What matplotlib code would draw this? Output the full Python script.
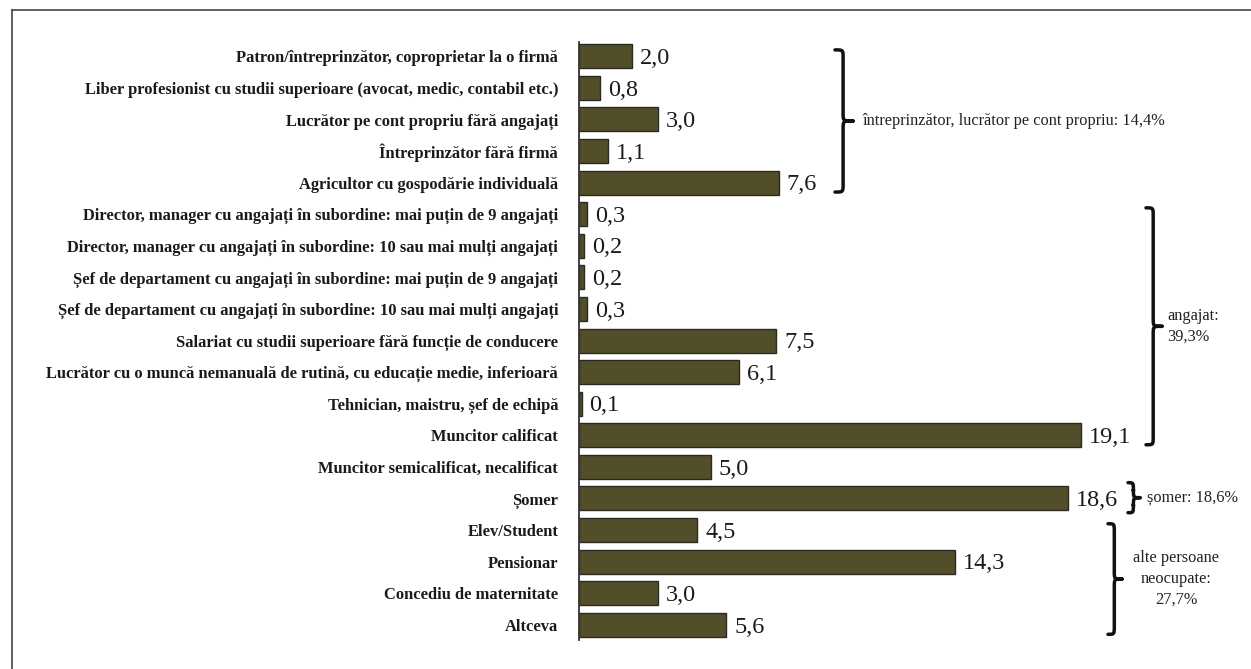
import matplotlib
matplotlib.use('Agg')
import matplotlib.pyplot as plt
from matplotlib.path import Path
from matplotlib.patches import PathPatch
from matplotlib.lines import Line2D

categories = [
    'Patron/întreprinzător, coproprietar la o firmă',
    'Liber profesionist cu studii superioare (avocat, medic, contabil etc.)',
    'Lucrător pe cont propriu fără angajați',
    'Întreprinzător fără firmă',
    'Agricultor cu gospodărie individuală',
    'Director, manager cu angajați în subordine: mai puțin de 9 angajați',
    'Director, manager cu angajați în subordine: 10 sau mai mulți angajați',
    'Șef de departament cu angajați în subordine: mai puțin de 9 angajați',
    'Șef de departament cu angajați în subordine: 10 sau mai mulți angajați',
    'Salariat cu studii superioare fără funcție de conducere',
    'Lucrător cu o muncă nemanuală de rutină, cu educație medie, inferioară',
    'Tehnician, maistru, șef de echipă',
    'Muncitor calificat',
    'Muncitor semicalificat, necalificat',
    'Șomer',
    'Elev/Student',
    'Pensionar',
    'Concediu de maternitate',
    'Altceva',
]
values = [2.0, 0.8, 3.0, 1.1, 7.6, 0.3, 0.2, 0.2, 0.3, 7.5, 6.1, 0.1,
          19.1, 5.0, 18.6, 4.5, 14.3, 3.0, 5.6]

# group braces: first row, last row, label
group_first = [0, 5, 14, 15]
group_last = [4, 12, 14, 18]
group_labels = ['întreprinzător, lucrător pe cont propriu: 14,4%',
                'angajat:\n39,3%',
                'șomer: 18,6%',
                'alte persoane\nneocupate:\n27,7%']

SERIF = ['Liberation Serif', 'DejaVu Serif']
BAR_COLOR = '#524e29'

W, H = 1251, 669
fig = plt.figure(figsize=(W / 100, H / 100), dpi=100)
ax = fig.add_axes([579 / W, 1 - 640 / H, (1240 - 579) / W, (640 - 42) / H])

ypos = list(range(len(categories)))
ax.barh(ypos, values, height=0.76, color=BAR_COLOR, edgecolor='#2a2a22', linewidth=1.0)
ax.set_xlim(0, (1240 - 579) / 26.3)
ax.set_ylim(18.48, -0.45)

ax.set_yticks(ypos)
ax.set_yticklabels(categories, fontfamily=SERIF, fontweight='bold', fontsize=11.9, color='#1a1a1a')
ax.tick_params(axis='y', length=0, pad=15)
ax.set_xticks([])
for side in ['top', 'right', 'bottom']:
    ax.spines[side].set_visible(False)
ax.spines['left'].set_color('#333333')
ax.spines['left'].set_linewidth(1.3)

for y, v in zip(ypos, values):
    ax.text(v + 0.3, y + 0.07, f'{v:.1f}'.replace('.', ','), va='center', ha='left',
            fontfamily=SERIF, fontsize=17.5, color='#1a1a1a')


def px_x(p):
    return (p - 579) / 26.3


def brace(x0, top, bottom, w, curl):
    """Right-facing curly brace from row top to row bottom at data x0."""
    mid = (top + bottom) / 2
    xm = x0 + w * 0.45
    verts = [
        (x0, top),
        (xm, top), (xm, top), (xm, top + curl),
        (xm, mid - curl),
        (xm, mid), (xm, mid), (x0 + w, mid),
        (xm, mid), (xm, mid), (xm, mid + curl),
        (xm, bottom - curl),
        (xm, bottom), (xm, bottom), (x0, bottom),
    ]
    codes = [Path.MOVETO,
             Path.CURVE4, Path.CURVE4, Path.CURVE4,
             Path.LINETO,
             Path.CURVE4, Path.CURVE4, Path.CURVE4,
             Path.CURVE4, Path.CURVE4, Path.CURVE4,
             Path.LINETO,
             Path.CURVE4, Path.CURVE4, Path.CURVE4]
    ax.add_patch(PathPatch(Path(verts, codes), fill=False, lw=2.5, color='#111111',
                           capstyle='round', joinstyle='round', clip_on=False))


brace_left = [835, 1146, 1128, 1108]
brace_tip = [853, 1162, 1140, 1122]
label_px = [862, 1167, 1147, 1176]
label_ha = ['left', 'left', 'left', 'center']

for i in range(len(group_labels)):
    top = group_first[i] - 0.2
    bottom = group_last[i] + 0.3
    if group_first[i] == group_last[i]:
        top, bottom = group_first[i] - 0.5, group_last[i] + 0.45
    brace(px_x(brace_left[i]), top, bottom, px_x(brace_tip[i]) - px_x(brace_left[i]), 0.25)
    ax.text(px_x(label_px[i]), (top + bottom) / 2, group_labels[i], ha=label_ha[i], va='center',
            multialignment=label_ha[i], fontfamily=SERIF, fontsize=11.8, color='#222222',
            linespacing=1.4, clip_on=False)

# thin frame around the chart (top and left edges visible)
fig.add_artist(Line2D([12 / W, 12 / W], [0, 1 - 10 / H], transform=fig.transFigure,
                      color='#444444', lw=1.2))
fig.add_artist(Line2D([12 / W, 1], [1 - 10 / H, 1 - 10 / H], transform=fig.transFigure,
                      color='#444444', lw=1.2))

fig.savefig('out.png', dpi=100, facecolor='white')
